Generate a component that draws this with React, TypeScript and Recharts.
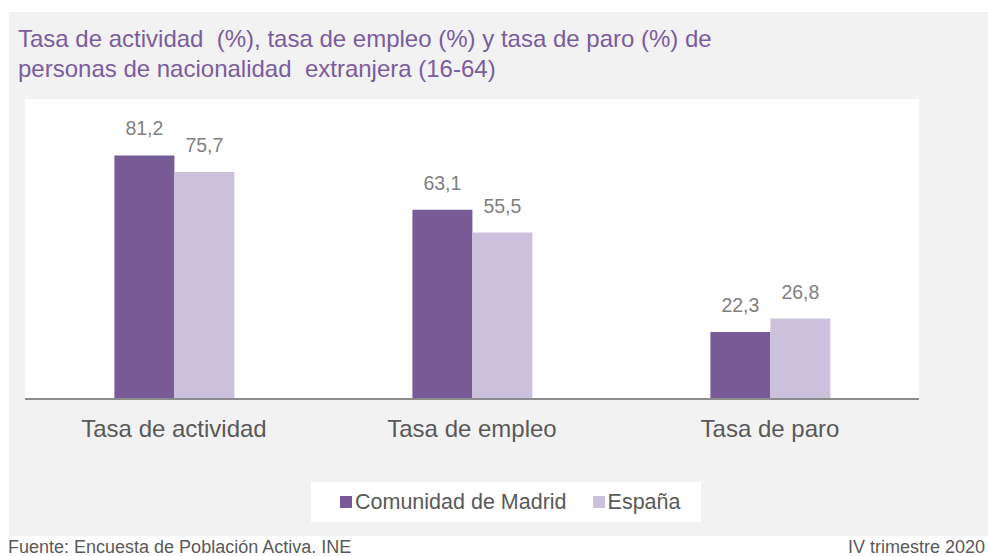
import { Bar, BarChart, LabelList, XAxis, YAxis } from 'recharts';

const categories = ['Tasa de actividad', 'Tasa de empleo', 'Tasa de paro'];
const madrid = [81.2, 63.1, 22.3];
const espana = [75.7, 55.5, 26.8];

const series = [
    { key: 'madrid', name: 'Comunidad de Madrid', color: '#775a96' },
    { key: 'espana', name: 'España', color: '#cbc1dc' },
];

const data = categories.map((name, i) => ({
    name,
    madrid: madrid[i],
    espana: espana[i],
}));

const FONT = '"Liberation Sans", Arial, sans-serif';

const fmt = (v: any) => Number(v).toFixed(1).replace('.', ',');

const App = () => {
    return (
        <div
            style={{
                position: 'fixed',
                left: 0,
                top: 0,
                width: 988,
                height: 556,
                background: '#fff',
                fontFamily: FONT,
                overflow: 'hidden',
            }}
        >
            {/* grey panel */}
            <div
                style={{
                    position: 'absolute',
                    left: 9,
                    top: 12,
                    width: 979,
                    height: 524,
                    background: '#f2f2f2',
                }}
            />
            <div
                style={{
                    position: 'absolute',
                    left: 18,
                    top: 24,
                    fontSize: 24,
                    lineHeight: '30px',
                    color: '#7b5c9e',
                    whiteSpace: 'pre',
                }}
            >
                {'Tasa de actividad  (%), tasa de empleo (%) y tasa de paro (%) de\npersonas de nacionalidad  extranjera (16-64)'}
            </div>
            {/* white plot box */}
            <div
                style={{
                    position: 'absolute',
                    left: 25,
                    top: 99,
                    width: 894,
                    height: 300,
                    background: '#fff',
                }}
            />
            <div style={{ position: 'absolute', left: 0, top: 0 }}>
                <BarChart
                    width={988}
                    height={556}
                    data={data}
                    margin={{ top: 99, right: 69, left: 25, bottom: 117 }}
                    barCategoryGap="30%"
                    barGap={0}
                >
                    <YAxis hide domain={[0, 100]} />
                    <XAxis
                        dataKey="name"
                        height={40}
                        tickLine={false}
                        axisLine={{ stroke: '#8c8c8c', strokeWidth: 2 }}
                        tick={{ fill: '#595959', fontSize: 24, fontFamily: FONT }}
                        tickMargin={15}
                    />
                    {series.map((s) => (
                        <Bar
                            key={s.key}
                            dataKey={s.key}
                            name={s.name}
                            fill={s.color}
                            isAnimationActive={false}
                        >
                            <LabelList
                                dataKey={s.key}
                                position="top"
                                offset={20}
                                formatter={fmt}
                                fill="#7f7f7f"
                                fontSize={19.5}
                                fontFamily={FONT}
                            />
                        </Bar>
                    ))}
                </BarChart>
            </div>
            {/* legend */}
            <div
                style={{
                    position: 'absolute',
                    left: 311,
                    top: 482,
                    width: 390,
                    height: 40,
                    background: '#fff',
                    display: 'flex',
                    alignItems: 'center',
                    gap: 26,
                    paddingLeft: 29,
                    boxSizing: 'border-box',
                }}
            >
                {series.map((s) => (
                    <div
                        key={s.key}
                        style={{ display: 'flex', alignItems: 'center', gap: 3 }}
                    >
                        <span
                            style={{
                                display: 'inline-block',
                                width: 12,
                                height: 12,
                                background: s.color,
                            }}
                        />
                        <span style={{ fontSize: 21.5, color: '#595959' }}>{s.name}</span>
                    </div>
                ))}
            </div>
            {/* footer */}
            <div
                style={{
                    position: 'absolute',
                    left: 8,
                    top: 536,
                    fontSize: 18,
                    lineHeight: '22px',
                    color: '#595959',
                    whiteSpace: 'nowrap',
                }}
            >
                Fuente: Encuesta de Población Activa. INE
            </div>
            <div
                style={{
                    position: 'absolute',
                    right: 3,
                    top: 536,
                    fontSize: 18,
                    lineHeight: '22px',
                    color: '#595959',
                    whiteSpace: 'nowrap',
                }}
            >
                IV trimestre 2020
            </div>
        </div>
    );
};

export default App;
